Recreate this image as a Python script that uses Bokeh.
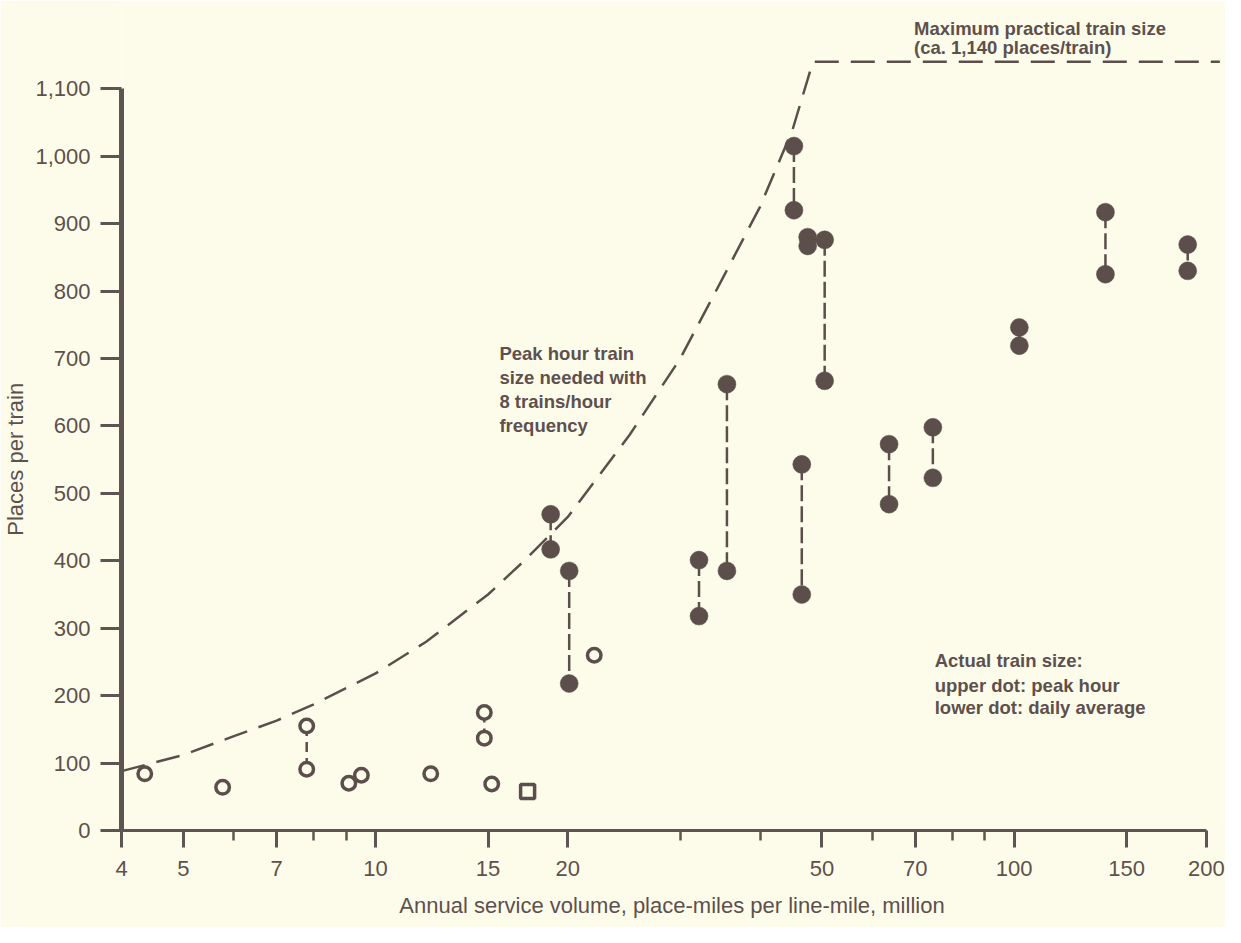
import numpy as np
from bokeh.plotting import figure
from bokeh.models import Range1d, FixedTicker, NumeralTickFormatter, BasicTickFormatter
from bokeh.core.properties import value
from bokeh.embed import file_html
from bokeh.resources import INLINE

# ---------------- data ----------------
x_major_ticks = [4, 5, 7, 10, 15, 20, 50, 70, 100, 150, 200]
x_minor_ticks = [6, 8, 9, 30, 40, 60, 80, 90]
y_ticks = [0, 100, 200, 300, 400, 500, 600, 700, 800, 900, 1000, 1100]

# peak-hour train size needed with 8 trains/hour, capped at max practical size
need_x = [4, 5, 6, 7, 8, 10, 12, 15, 17, 20, 25, 30, 35, 40, 45, 48.4, 210]
need_y = [88, 112, 140, 163, 187, 233, 280, 350, 398, 465, 587, 700, 820, 925, 1040, 1140, 1140]

# filled dots (upper = peak hour, lower = daily average)
filled_x = [18.8, 20.1, 32.1, 35.5, 45.2, 46.5, 47.5, 50.5, 63.7, 74.6, 101.9, 139, 187]
filled_peak = [469, 385, 401, 662, 1015, 543, 880, 876, 573, 598, 746, 917, 869]
filled_daily = [417, 218, 318, 385, 920, 350, 867, 667, 484, 523, 719, 825, 830]

# open circles, single values
open_x = [4.35, 5.76, 9.08, 9.5, 12.2, 15.2, 22.0]
open_y = [84, 64, 70, 82, 84, 69, 260]
# open circles, pairs
open_pair_x = [7.8, 14.8]
open_pair_peak = [155, 175]
open_pair_daily = [91, 137]
# open square
square_x = [17.3]
square_y = [58]

# ---------------- style ----------------
BG = "#fdfcea"
INK = "#5c4e4b"
AXIS = "#5e5552"
TXT = "#5d504d"
FONT = "Liberation Sans"

p = figure(width=1225, height=927, x_axis_type="log",
           x_range=Range1d(4, 212), y_range=Range1d(0, 1228),
           output_backend="svg", toolbar_location=None,
           min_border_left=115, min_border_right=3, min_border_top=2, min_border_bottom=97)
p.grid.visible = False
p.outline_line_color = None
p.background_fill_color = BG
p.border_fill_color = BG

xa = p.xaxis[0]
xa.ticker = FixedTicker(ticks=x_major_ticks, minor_ticks=x_minor_ticks)
xa.formatter = BasicTickFormatter(use_scientific=False)
xa.bounds = (4, 200)
xa.axis_line_width = 3
xa.axis_line_color = AXIS
xa.major_tick_out = 17
xa.major_tick_in = 0
xa.minor_tick_out = 10
xa.minor_tick_in = 0
xa.major_tick_line_width = 3
xa.minor_tick_line_width = 2.5
xa.major_tick_line_color = AXIS
xa.minor_tick_line_color = AXIS
xa.major_label_standoff = 13
xa.major_label_text_font = FONT
xa.major_label_text_font_size = "22px"
xa.major_label_text_color = TXT
xa.axis_label = "Annual service volume, place-miles per line-mile, million"
xa.axis_label_standoff = 14
xa.axis_label_text_font = FONT
xa.axis_label_text_font_size = "22px"
xa.axis_label_text_font_style = "normal"
xa.axis_label_text_color = TXT

ya = p.yaxis[0]
ya.ticker = FixedTicker(ticks=y_ticks)
ya.formatter = NumeralTickFormatter(format="0,0")
ya.bounds = (0, 1100)
ya.axis_line_width = 5
ya.axis_line_color = AXIS
ya.major_tick_out = 21
ya.major_tick_in = 0
ya.minor_tick_line_color = None
ya.major_tick_line_width = 3
ya.major_tick_line_color = AXIS
ya.major_label_standoff = 10
ya.major_label_text_font = FONT
ya.major_label_text_font_size = "22px"
ya.major_label_text_color = TXT
# trailing no-break spaces shift the centred label down toward the 0..1,100 span
ya.axis_label = "Places per train" + "\u00a0" * 14
ya.axis_label_standoff = 4
ya.axis_label_text_font = FONT
ya.axis_label_text_font_size = "22px"
ya.axis_label_text_font_style = "normal"
ya.axis_label_text_color = TXT

# curve
p.line(need_x, need_y, line_color=INK, line_width=2.5, line_dash="24 12")

# connectors
p.segment(x0=filled_x, y0=filled_peak, x1=filled_x, y1=filled_daily,
          line_color=INK, line_width=2.5, line_dash="16 5")
p.segment(x0=open_pair_x, y0=open_pair_peak, x1=open_pair_x, y1=open_pair_daily,
          line_color=INK, line_width=2.5, line_dash="10 6")

# markers
p.scatter(filled_x, filled_peak, marker="circle", size=18, fill_color=INK, line_color=INK, line_width=0.5)
p.scatter(filled_x, filled_daily, marker="circle", size=18, fill_color=INK, line_color=INK, line_width=0.5)
p.scatter(open_x, open_y, marker="circle", size=13.5, fill_color=BG, line_color=INK, line_width=3.5)
p.scatter(open_pair_x, open_pair_peak, marker="circle", size=13.5, fill_color=BG, line_color=INK, line_width=3.5)
p.scatter(open_pair_x, open_pair_daily, marker="circle", size=13.5, fill_color=BG, line_color=INK, line_width=3.5)
p.scatter(square_x, square_y, marker="square", size=14, fill_color=BG, line_color=INK, line_width=3.5)


def add_block(x, ys, lines, size="18.5px"):
    p.text(x=[x] * len(lines), y=ys, text=lines,
           text_font=value(FONT), text_font_style="bold", text_font_size=size,
           text_color=TXT, text_align="left", text_baseline="alphabetic")


add_block(69.7, [1189.4, 1161.3], ["Maximum practical train size", "(ca. 1,140 places/train)"])
add_block(15.63, [707.9, 671.8, 636.2, 600.6],
          ["Peak hour train", "size needed with", "8 trains/hour", "frequency"])
add_block(75.1, [251.7, 215.5, 182.4],
          ["Actual train size:", "upper dot: peak hour", "lower dot: daily average"])

open("out.html", "w").write(file_html(p, INLINE))
